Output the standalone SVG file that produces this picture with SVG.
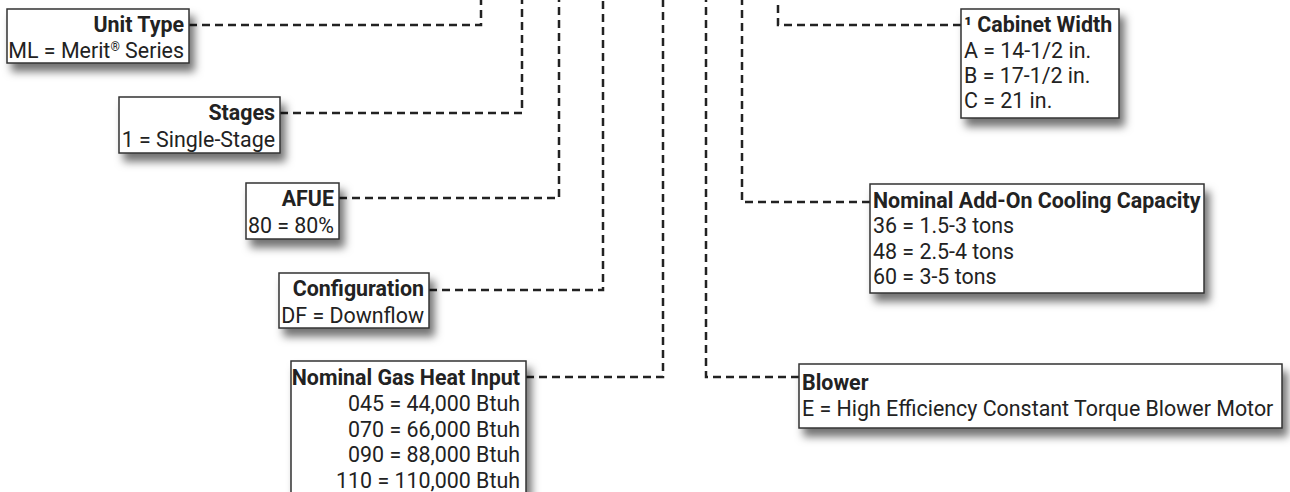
<svg xmlns="http://www.w3.org/2000/svg" width="1290" height="492" viewBox="0 0 1290 492">
<style>
.box{fill:#fff;stroke:#333;stroke-width:1.5;filter:url(#sh)}
.t{font-family:Roboto,"Liberation Sans",sans-serif;font-size:21.4px;fill:#222}
.b{font-weight:bold}
.r{text-anchor:end}
.c{fill:none;stroke:#222;stroke-width:2.5;stroke-dasharray:8 5}
.sup{font-size:12px}
</style>
<defs>
<filter id="sh" x="-10%" y="-20%" width="130%" height="170%">
<feDropShadow dx="5" dy="8" stdDeviation="4" flood-color="#000" flood-opacity="0.55"/>
</filter>
</defs>
<rect width="1290" height="492" fill="#fff"/>
<g id="connectors">
<path class="c" d="M189,25 H481 V0"/>
<path class="c" d="M280,113 H522 V0"/>
<path class="c" d="M339,198 H559 V0"/>
<path class="c" d="M429,290 H603 V0"/>
<path class="c" d="M526,377 H663 V0"/>
<path class="c" d="M799,377 H706 V0"/>
<path class="c" d="M870,202 H742 V0"/>
<path class="c" d="M961,25 H778 V0"/>
</g>
<g id="unit-type">
<rect class="box" x="7" y="9" width="182" height="54"/>
<text class="t b r" x="184" y="32">Unit Type</text>
<text class="t r" x="184" y="58">ML = Merit<tspan class="sup" baseline-shift="super">®</tspan> Series</text>
</g>
<g id="stages">
<rect class="box" x="119" y="97" width="161" height="56"/>
<text class="t b r" x="275" y="120">Stages</text>
<text class="t r" x="275" y="147">1 = Single-Stage</text>
</g>
<g id="afue">
<rect class="box" x="246" y="183" width="93" height="56"/>
<text class="t b r" x="334" y="206">AFUE</text>
<text class="t r" x="334" y="233">80 = 80%</text>
</g>
<g id="configuration">
<rect class="box" x="279" y="273" width="150" height="55"/>
<text class="t b r" x="424" y="296">Configuration</text>
<text class="t r" x="424" y="323">DF = Downflow</text>
</g>
<g id="gas-heat">
<rect class="box" x="291" y="361" width="235" height="150"/>
<text class="t b r" x="520" y="385">Nominal Gas Heat Input</text>
<text class="t r" x="520" y="411">045 = 44,000 Btuh</text>
<text class="t r" x="520" y="437">070 = 66,000 Btuh</text>
<text class="t r" x="520" y="462">090 = 88,000 Btuh</text>
<text class="t r" x="520" y="488">110 = 110,000 Btuh</text>
</g>
<g id="cabinet-width">
<rect class="box" x="961" y="9" width="158" height="109"/>
<text class="t b" x="964" y="32">¹ Cabinet Width</text>
<text class="t" x="964" y="58">A = 14-1/2 in.</text>
<text class="t" x="964" y="83">B = 17-1/2 in.</text>
<text class="t" x="964" y="108">C = 21 in.</text>
</g>
<g id="cooling-capacity">
<rect class="box" x="870" y="184" width="334" height="109"/>
<text class="t b" x="873" y="208">Nominal Add-On Cooling Capacity</text>
<text class="t" x="873" y="233">36 = 1.5-3 tons</text>
<text class="t" x="873" y="259">48 = 2.5-4 tons</text>
<text class="t" x="873" y="284">60 = 3-5 tons</text>
</g>
<g id="blower">
<rect class="box" x="799" y="364" width="483" height="64"/>
<text class="t b" x="802" y="390">Blower</text>
<text class="t" x="802" y="416">E = High Efficiency Constant Torque Blower Motor</text>
</g>
</svg>
